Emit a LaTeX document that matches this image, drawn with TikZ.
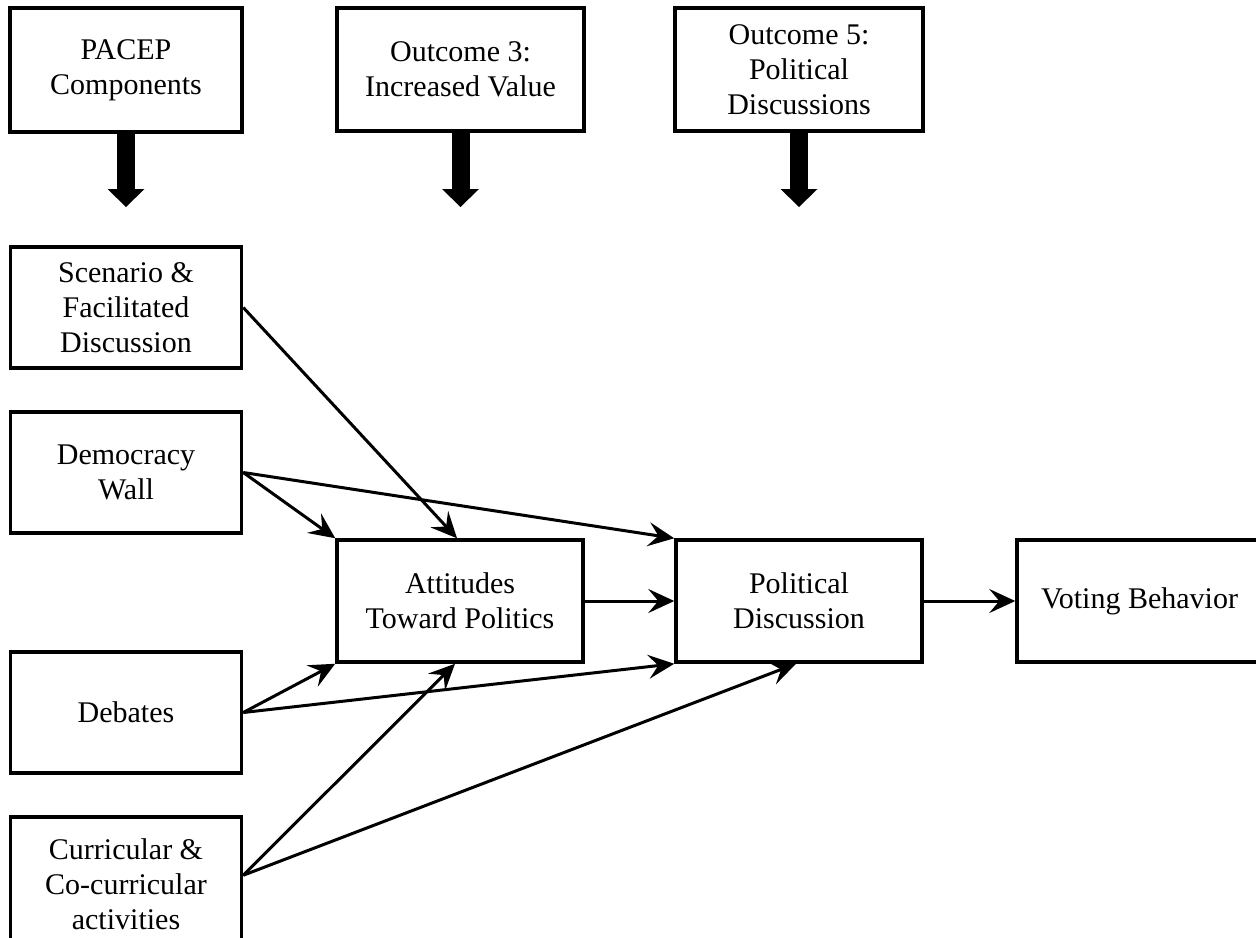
\documentclass[tikz,border=0pt]{standalone}
\usepackage{fontspec}
\setmainfont{Liberation Serif}
\usetikzlibrary{arrows.meta,calc}
\begin{document}
\begin{tikzpicture}[x=0.5pt,y=-0.5pt,
  box/.style={draw=black, line width=1.75pt, fill=none, align=center, inner sep=0pt,
    font=\fontsize{15}{17.5}\selectfont},
  conn/.style={line width=1.5pt, -{Stealth[length=13pt,width=12pt,inset=5pt]}},
  bigarrow/.style={line width=9pt, -{Triangle[width=18.5pt,length=9pt,line width=0pt]}}
]
\useasboundingbox (0,0) rectangle (1256,937);
% top boxes
\node[box, minimum width=116pt, minimum height=62pt] (pacep) at (126,70) {PACEP\\Components};
\node[box, minimum width=123.5pt, minimum height=61.5pt] (out3) at (460.5,69.5) {Outcome 3:\\Increased Value};
\node[box, minimum width=124pt, minimum height=61.5pt] (out5) at (799,69.5) {Outcome 5:\\Political\\Discussions};
\coordinate (t1) at (126,207);
\coordinate (t3) at (460.5,207);
\coordinate (t5) at (799,207);
\draw[bigarrow] (pacep.south) -- (t1);
\draw[bigarrow] (out3.south) -- (t3);
\draw[bigarrow] (out5.south) -- (t5);
% left column
\node[box, minimum width=115.5pt, minimum height=60.5pt] (scen) at (126,307.5) {Scenario \&\\Facilitated\\Discussion};
\node[box, minimum width=115.5pt, minimum height=60.5pt] (dem) at (126,472.5) {Democracy\\Wall};
\node[box, minimum width=115.5pt, minimum height=60.5pt] (deb) at (126,712.5) {Debates};
\node[box, minimum width=115.5pt, minimum height=67.5pt] (cur) at (126,884.5) {Curricular \&\\Co-curricular\\activities};
% middle row
\node[box, minimum width=123pt, minimum height=61pt] (att) at (460,601) {Attitudes\\Toward Politics};
\node[box, minimum width=123pt, minimum height=61pt] (pol) at (799,601) {Political\\Discussion};
\node[box, minimum width=122.5pt, minimum height=61pt] (vote) at (1139.5,601) {Voting Behavior};
% connectors
\coordinate (curout) at ($(cur.north east)+(0,60)$);
\coordinate (attin) at ($(att.north)+(-3,0)$);
\coordinate (attbot) at ($(att.south)+(-5,0)$);
\coordinate (polbot) at ($(pol.south)+(-3,0)$);
\draw[conn] (scen.east) -- (attin);
\draw[conn] (dem.east) -- (att.north west);
\draw[conn] (dem.east) -- (pol.north west);
\draw[conn] (deb.east) -- (att.south west);
\draw[conn] (deb.east) -- (pol.south west);
\draw[conn] (curout) -- (attbot);
\draw[conn] (curout) -- (polbot);
\draw[conn] (att.east) -- (pol.west);
\draw[conn] (pol.east) -- (vote.west);
\end{tikzpicture}
\end{document}
